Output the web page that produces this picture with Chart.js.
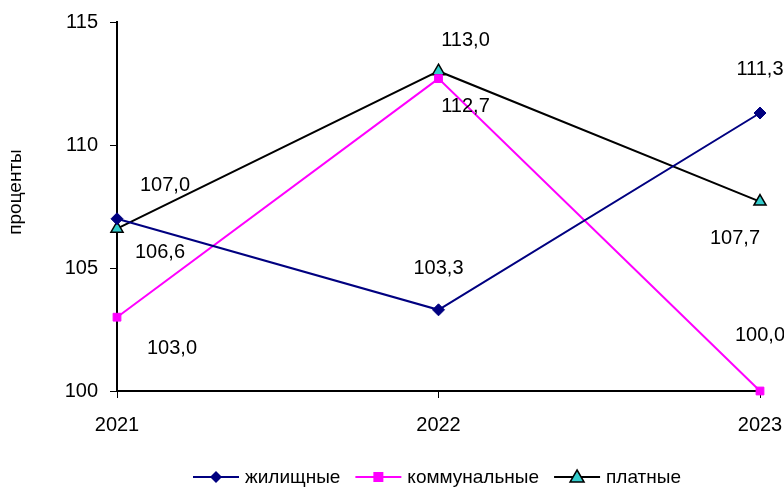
<!DOCTYPE html>
<html><head><meta charset="utf-8">
<script src="https://cdn.jsdelivr.net/npm/chart.js@4"></script>
<style>html,body{margin:0;padding:0;background:#fff}#wrap{width:784px;height:488px}</style>
</head><body><div id="wrap"><canvas id="c" width="784" height="488"></canvas></div>
<script>
const categories = ['2021', '2022', '2023'];
const housing = [107.0, 103.3, 111.3];
const communal = [103.0, 112.7, 100.0];
const paid = [106.6, 113.0, 107.7];
const seriesNames = ['жилищные', 'коммунальные', 'платные'];
const yTicks = [100, 105, 110, 115];
const yTitle = 'проценты';

const FONT = '"Liberation Sans", Arial, sans-serif';
const FS = 20;
const LFS = 19;

// label offsets (dx, dy) from each point, per series
const labelOffsets = [
  [[48,-33],[0,-41],[0,-44]],
  [[55,31],[27,28],[0,-56]],
  [[43,24],[27,-31],[-25,37]]
];

const fmt = v => v.toFixed(1).replace('.', ',');

const customDraw = {
  id: 'customDraw',
  afterDatasetsDraw(chart) {
    const ctx = chart.ctx;
    ctx.save();
    ctx.font = FS + 'px ' + FONT;
    ctx.fillStyle = '#000';
    ctx.textAlign = 'center';
    ctx.textBaseline = 'middle';
    chart.data.datasets.forEach((ds, i) => {
      const meta = chart.getDatasetMeta(i);
      meta.data.forEach((pt, j) => {
        const o = labelOffsets[i][j];
        ctx.fillText(fmt(ds.data[j]), pt.x + o[0], pt.y + o[1]);
      });
    });
    // y title
    ctx.save();
    ctx.font = LFS + 'px ' + FONT;
    ctx.translate(16, 192);
    ctx.rotate(-Math.PI / 2);
    ctx.fillText(yTitle, 0, 0);
    ctx.restore();
    // legend
    ctx.font = LFS + 'px ' + FONT;
    let x = 193;
    const y = 477;
    ctx.textAlign = 'left';
    chart.data.datasets.forEach((ds, i) => {
      ctx.strokeStyle = ds.borderColor;
      ctx.lineWidth = 2;
      ctx.beginPath(); ctx.moveTo(x, y); ctx.lineTo(x + 46, y); ctx.stroke();
      const cx = x + 23;
      ctx.fillStyle = ds.pointBackgroundColor;
      ctx.strokeStyle = ds.pointBorderColor;
      ctx.lineWidth = 1.5;
      ctx.beginPath();
      if (ds.pointStyle === 'rectRot') {
        ctx.moveTo(cx, y - 6); ctx.lineTo(cx + 6, y); ctx.lineTo(cx, y + 6); ctx.lineTo(cx - 6, y); ctx.closePath();
        ctx.fill();
      } else if (ds.pointStyle === 'rect') {
        ctx.rect(cx - 5, y - 5, 10, 10); ctx.fill();
      } else {
        ctx.moveTo(cx, y - 7); ctx.lineTo(cx + 7, y + 5); ctx.lineTo(cx - 7, y + 5); ctx.closePath();
        ctx.fill(); ctx.stroke();
      }
      ctx.fillStyle = '#000';
      ctx.fillText(ds.label, x + 52, y + 1);
      x += 52 + ctx.measureText(ds.label).width + 15;
    });
    ctx.restore();
  }
};

new Chart(document.getElementById('c'), {
  type: 'line',
  data: {
    labels: categories,
    datasets: [
      { label: seriesNames[0], data: housing, borderColor: '#000080', backgroundColor: '#000080', clip: false,
        pointStyle: 'rectRot', pointRadius: 6, pointHoverRadius: 6, pointBackgroundColor: '#000080', pointBorderColor: '#000080', borderWidth: 2, pointBorderWidth: 1 },
      { label: seriesNames[1], data: communal, borderColor: '#FF00FF', backgroundColor: '#FF00FF', clip: false,
        pointStyle: 'rect', pointRadius: 5.5, pointHoverRadius: 5.5, pointBackgroundColor: '#FF00FF', pointBorderColor: '#FF00FF', borderWidth: 2, pointBorderWidth: 1 },
      { label: seriesNames[2], data: paid, borderColor: '#000000', backgroundColor: '#33CCCC', clip: false,
        pointStyle: 'triangle', pointRadius: 7, pointHoverRadius: 7, pointBackgroundColor: '#33CCCC', pointBorderColor: '#000000', borderWidth: 2, pointBorderWidth: 1.5 }
    ]
  },
  options: {
    responsive: false,
    animation: false,
    devicePixelRatio: 1,
    layout: { padding: { top: 22, right: 24, left: 0, bottom: 0 } },
    plugins: { legend: { display: false }, tooltip: { enabled: false } },
    scales: {
      x: {
        offset: false,
        grid: { drawOnChartArea: false, tickLength: 7, color: '#000', tickColor: '#000' },
        border: { color: '#000', width: 2 },
        ticks: { color: '#000', font: { family: FONT, size: FS }, padding: 15, maxRotation: 0 },
        afterFit(s) { s.height = 97; s.paddingLeft = 0; s.paddingRight = 0; }
      },
      y: {
        min: 100, max: 115,
        afterBuildTicks(s) { s.ticks = yTicks.map(v => ({ value: v })); },
        grid: { drawOnChartArea: false, tickLength: 7, color: '#000', tickColor: '#000' },
        border: { color: '#000', width: 2 },
        ticks: { color: '#000', font: { family: FONT, size: FS }, padding: 12 },
        afterFit(s) { s.width = 117; s.paddingTop = 0; s.paddingBottom = 0; }
      }
    }
  },
  plugins: [customDraw]
});
</script></body></html>
